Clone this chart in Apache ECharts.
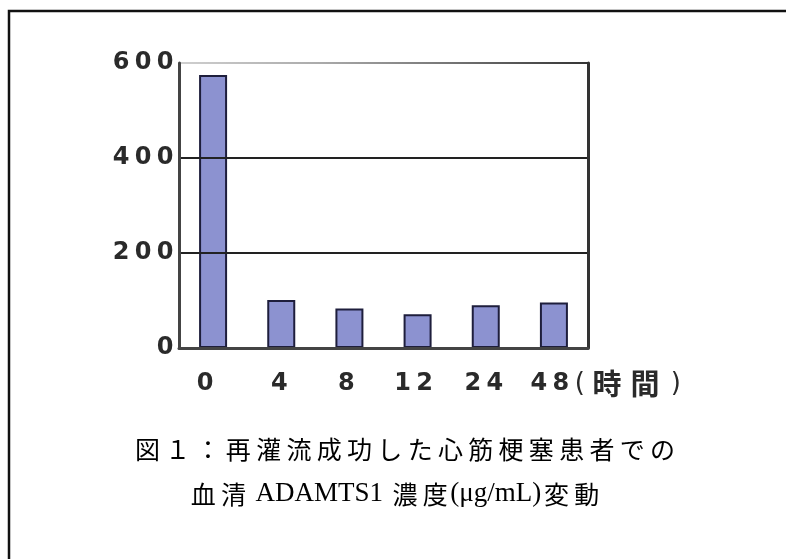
<!DOCTYPE html>
<html><head><meta charset="utf-8">
<script src="https://cdn.jsdelivr.net/npm/echarts@6/dist/echarts.min.js"></script>
<style>html,body{margin:0;padding:0;background:#fff}#c{width:786px;height:559px}</style>
</head><body><div id="c"></div>
<script>
// ---- data ----
const xCategories = ['0', '4', '8', '12', '24', '48'];
const xUnitLabel = '(時間)';
const concentration = [575, 101, 83, 71, 90, 96];
const yMin = 0, yMax = 600, yInterval = 200;
const captionLine1 = '図１：再灌流成功した心筋梗塞患者での';
const captionLine2 = '血清 ADAMTS1 濃度(μg/mL)変動';

// ---- styles ----
const labelShift = [-8, -2, -3, -4, -2, 54];
const digitStyle = {fontFamily: 'DejaVu Sans', fontWeight: 'bold', fontSize: 24, color: '#2a2a2a', width: 22, align: 'center', lineHeight: 28};
const axisRich = {
  d: digitStyle,
  p: {fontFamily: 'DejaVu Sans', fontSize: 26, color: '#2a2a2a', width: 16, align: 'center', lineHeight: 28},
  q: {fontFamily: 'DejaVu Sans', fontSize: 26, color: '#2a2a2a', width: 24, align: 'center', lineHeight: 28},
  k: {fontFamily: 'Noto Sans CJK JP', fontWeight: 'bold', fontSize: 29, color: '#2a2a2a', width: 38, align: 'center', lineHeight: 28}
};
labelShift.forEach((s, i) => {
  axisRich['s' + i] = {width: Math.abs(s) * 2, align: 'center', fontSize: 10, lineHeight: 28};
});
function digits(str) { return String(str).split('').map(c => '{d|' + c + '}').join(''); }
function unitTokens(str) {
  return str.split('').map(c => c === '(' ? '{p|(}' : c === ')' ? '{q|)}' : '{k|' + c + '}').join('');
}

const captionRich = {
  j: {fontFamily: 'Noto Sans CJK JP', fontSize: 25, color: '#333', width: 30.3, align: 'center', lineHeight: 32},
  l: {fontFamily: 'Liberation Serif', fontSize: 27, color: '#333', align: 'center', lineHeight: 32}
};
function isCJK(c) { return /[\u3000-\u9fff\uff00-\uffef]/.test(c); }
function captionTokens(str, spacedAll) {
  let out = '', run = '';
  for (const c of str) {
    if (spacedAll || isCJK(c)) {
      if (run) { out += '{l|' + run + '}'; run = ''; }
      out += '{j|' + c + '}';
    } else run += c;
  }
  if (run) out += '{l|' + run + '}';
  return out;
}

const chart = echarts.init(document.getElementById('c'), null, {renderer: 'canvas'});
chart.setOption({
  animation: false,
  backgroundColor: '#fff',
  grid: {left: 179, right: 198, top: 63, bottom: 211, containLabel: false},
  xAxis: {
    type: 'category',
    data: xCategories,
    z: 3,
    axisLine: {show: true, lineStyle: {color: '#444', width: 3}},
    axisTick: {show: false},
    axisLabel: {
      interval: 0,
      margin: 22,
      rich: axisRich,
      formatter: function (value, index) {
        let s = digits(value);
        if (index === xCategories.length - 1) s += unitTokens(xUnitLabel);
        const sh = labelShift[index];
        if (sh < 0) s = s + '{s' + index + '| }';
        else if (sh > 0) s = '{s' + index + '| }' + s;
        return s;
      }
    }
  },
  yAxis: [{
    type: 'value',
    min: yMin, max: yMax, interval: yInterval,
    z: 3,
    axisLine: {show: true, lineStyle: {color: '#444', width: 3}},
    axisTick: {show: false},
    axisLabel: {margin: 3, rich: axisRich, formatter: v => digits(v)},
    splitLine: {
      show: true,
      lineStyle: {
        width: 2,
        color: ['#222', '#222', '#222',
          new echarts.graphic.LinearGradient(0, 0, 1, 0, [
            {offset: 0, color: '#d0d0d0'}, {offset: 0.35, color: '#aaaaaa'},
            {offset: 0.65, color: '#777777'}, {offset: 1, color: '#333333'}])]
      }
    }
  }, {
    type: 'value',
    position: 'right',
    min: yMin, max: yMax, interval: yInterval,
    z: 3,
    axisLine: {show: true, lineStyle: {color: '#333', width: 3}},
    axisTick: {show: false},
    axisLabel: {show: false},
    splitLine: {show: false}
  }],
  series: [{
    type: 'bar',
    data: concentration,
    barWidth: 28,
    itemStyle: {color: '#8c92d0', borderColor: '#1e1e3c', borderWidth: 2}
  }],
  graphic: [
    {type: 'rect', z: -1, shape: {x: 9, y: 11, width: 900, height: 700},
     style: {fill: 'none', stroke: '#111', lineWidth: 2.5}, silent: true},
    {type: 'text', x: 405, y: 449,
     style: {text: captionTokens(captionLine1, true), rich: captionRich,
             align: 'center', verticalAlign: 'middle', textAlign: 'center', textVerticalAlign: 'middle'}},
    {type: 'text', x: 395, y: 494,
     style: {text: captionTokens(captionLine2, false), rich: captionRich,
             align: 'center', verticalAlign: 'middle', textAlign: 'center', textVerticalAlign: 'middle'}}
  ]
});
</script></body></html>
